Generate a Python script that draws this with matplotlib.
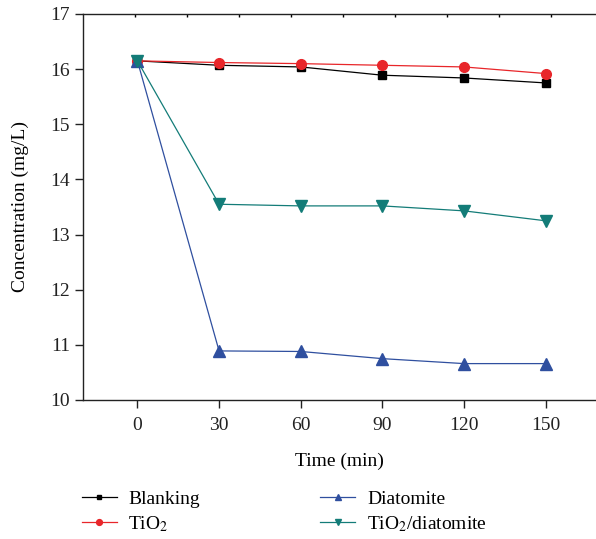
import matplotlib
matplotlib.use('Agg')
import matplotlib.pyplot as plt
import numpy as np

# data
time = [0, 30, 60, 90, 120, 150]
blanking = [16.15, 16.07, 16.04, 15.89, 15.84, 15.75]
tio2 = [16.15, 16.12, 16.10, 16.07, 16.04, 15.92]
diatomite = [16.15, 10.89, 10.88, 10.75, 10.66, 10.66]
tio2_diatomite = [16.15, 13.55, 13.52, 13.52, 13.43, 13.25]

plt.rcParams['font.family'] = ['Liberation Serif', 'DejaVu Serif']
plt.rcParams['mathtext.fontset'] = 'stix'

fig = plt.figure(figsize=(5.96, 5.39), dpi=100)
ax = fig.add_axes([83/596, 1-400/539, 1-83/596, 386/539])

ax.plot(time, blanking, color='black', marker='s', ms=6, lw=0.9, label='Blanking')
ax.plot(time, tio2, color='#e8262a', marker='o', ms=7, lw=0.9, label='TiO$_2$')
ax.plot(time, diatomite, color='#2f4f9f', marker='^', ms=8, lw=0.9, label='Diatomite')
ax.plot(time, tio2_diatomite, color='#137c78', marker='v', ms=8, lw=0.9, label='TiO$_2$/diatomite')

ax.set_xlim(-20, 168.5)
ax.set_ylim(10, 17)
ax.set_xticks(time)
ax.set_yticks(range(10, 18))
ax.spines['right'].set_visible(False)
for s in ['left', 'bottom', 'top']:
    ax.spines[s].set_linewidth(1.0)
    ax.spines[s].set_color('#222222')
ax.tick_params(direction='out', length=6, width=1, labelsize=14, colors='#222222')
ax.tick_params(axis='x', pad=6)

# small ticks on the top edge
top = ax.secondary_xaxis('top')
top.set_xticks(-20 + 19.1*np.arange(1, 10))
top.tick_params(direction='in', length=2, width=1, labeltop=False)
top.spines['top'].set_visible(False)

ax.set_xlabel('Time (min)', fontsize=14, labelpad=14)
ax.set_ylabel('Concentration (mg/L)', fontsize=14, labelpad=15)

fig.legend(loc='upper left', bbox_to_anchor=(64/596, 1-473/539), ncol=2,
           frameon=False, fontsize=14, handlelength=1.8, markerscale=0.6,
           columnspacing=6.2, labelspacing=0.3, handletextpad=0.6)

fig.savefig('out.png', dpi=100)
